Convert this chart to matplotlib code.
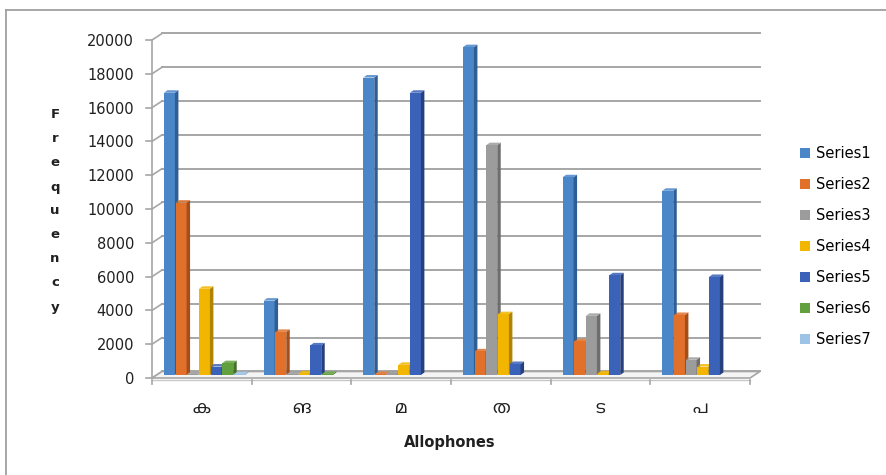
import matplotlib
matplotlib.use("Agg")
import matplotlib.pyplot as plt
from matplotlib.patches import Patch
from matplotlib.lines import Line2D
import numpy as np

categories = ["ക", "ങ", "മ", "ത", "ട", "പ"]
series_names = ["Series1", "Series2", "Series3", "Series4", "Series5", "Series6", "Series7"]
series1 = [16700, 4400, 17600, 19400, 11700, 10900]
series2 = [10200, 2550, 50, 1400, 2000, 3550]
series3 = [30, 60, 100, 13600, 3500, 900]
series4 = [5100, 100, 600, 3600, 100, 500]
series5 = [500, 1750, 16700, 650, 5900, 5800]
series6 = [700, 60, 0, 0, 0, 0]
series7 = [50, 0, 0, 0, 0, 0]
yticks = np.arange(0, 20001, 2000)

front = ["#4a86c8", "#e0702a", "#9c9c9c", "#f2b500", "#3a62b8", "#62a03e", "#9dc3e6"]
side = ["#2f5e92", "#a44e1a", "#6e6e6e", "#b08400", "#263f7d", "#43702a", "#6f94b8"]
grid_c = "#a6a6a6"

fig = plt.figure(figsize=(8.87, 4.75), dpi=100)
ax = fig.add_axes([152 / 887, 97 / 475, 598 / 887, 338 / 475])
ax.set_xlim(0, 6)
ax.set_ylim(0, 20000)
for s in ax.spines.values():
    s.set_visible(False)

# pseudo-3d depth of the back wall, in data units
dx, dy = 0.10, 385

# back wall gridlines, left wall edges and y tick marks
for v in yticks:
    ax.plot([dx, 6 + dx], [v + dy, v + dy], color=grid_c, lw=1.4, clip_on=False, zorder=1)
    ax.plot([0, dx], [v, v + dy], color=grid_c, lw=1.2, clip_on=False, zorder=1)
    ax.plot([-0.06, 0], [v, v], color=grid_c, lw=1.2, clip_on=False, zorder=1)
ax.plot([0, 0], [0, 20000], color=grid_c, lw=1.2, clip_on=False, zorder=1)

# floor
floor = plt.Polygon([(0, 0), (6, 0), (6 + dx, dy), (dx, dy)], closed=True,
                    facecolor="#f4f4f4", edgecolor=grid_c, lw=1.2, clip_on=False, zorder=1)
ax.add_patch(floor)
ax.plot([0, 6], [-90, -90], color="#c8c8c8", lw=1.0, clip_on=False, zorder=1)
for i in range(7):
    ax.plot([i, i], [-90, -360], color=grid_c, lw=1.2, clip_on=False, zorder=1)

# columns: front face via ax.bar, side and top faces as polygons
data = [series1, series2, series3, series4, series5, series6, series7]
base = 178
w, pitch, off = 0.11, 0.117, 0.12
sd, sdy = 0.035, 148
x0 = np.arange(len(categories))
for g in range(len(categories)):
    for j, vals in enumerate(data):
        v = vals[g]
        if v <= 0:
            continue
        xl = x0[g] + off + j * pitch
        ax.bar(xl, v, width=w, bottom=base, align="edge", color=front[j],
               linewidth=0, zorder=3)
        ax.fill([xl + w, xl + w + sd, xl + w + sd, xl + w],
                [base, base + sdy, base + v + sdy, base + v],
                color=side[j], lw=0, zorder=3)
        ax.fill([xl, xl + sd, xl + w + sd, xl + w],
                [base + v, base + v + sdy, base + v + sdy, base + v],
                color=front[j], lw=0, zorder=3, alpha=0.85)

ax.set_yticks(yticks)
ax.set_yticklabels([str(t) for t in yticks], fontsize=10.5, color="#202020")
ax.set_xticks(x0 + 0.5)
ax.set_xticklabels(categories, family=["Noto Sans Malayalam", "DejaVu Sans"],
                   fontsize=12.5, color="#202020")
ax.tick_params(axis="y", length=0, pad=13)
ax.tick_params(axis="x", length=0, pad=15)

fig.text(450 / 887, 1 - 443 / 475, "Allophones", ha="center", va="center",
         fontsize=10.5, fontweight="bold", color="#202020")
for k, ch in enumerate("Frequency"):
    fig.text(55 / 887, 1 - (115 + k * 24.0) / 475, ch, ha="center", va="center",
             fontsize=9.5, fontweight="bold", color="#202020")

handles = [Patch(facecolor=c, edgecolor="none") for c in front]
fig.legend(handles, series_names, loc="upper left", bbox_to_anchor=(787 / 887, 1 - 133 / 475),
           frameon=False, fontsize=10.5, handlelength=0.7, handleheight=0.7,
           handletextpad=0.4, labelspacing=1.1)

# chart area border: top and left edges
fig.add_artist(Line2D([6 / 887, 1.0], [1 - 9.5 / 475] * 2, transform=fig.transFigure,
                      color="#a0a0a0", lw=1.3))
fig.add_artist(Line2D([6 / 887] * 2, [0.0, 1 - 9.5 / 475], transform=fig.transFigure,
                      color="#a0a0a0", lw=1.3))

fig.savefig("out.png", dpi=100)
